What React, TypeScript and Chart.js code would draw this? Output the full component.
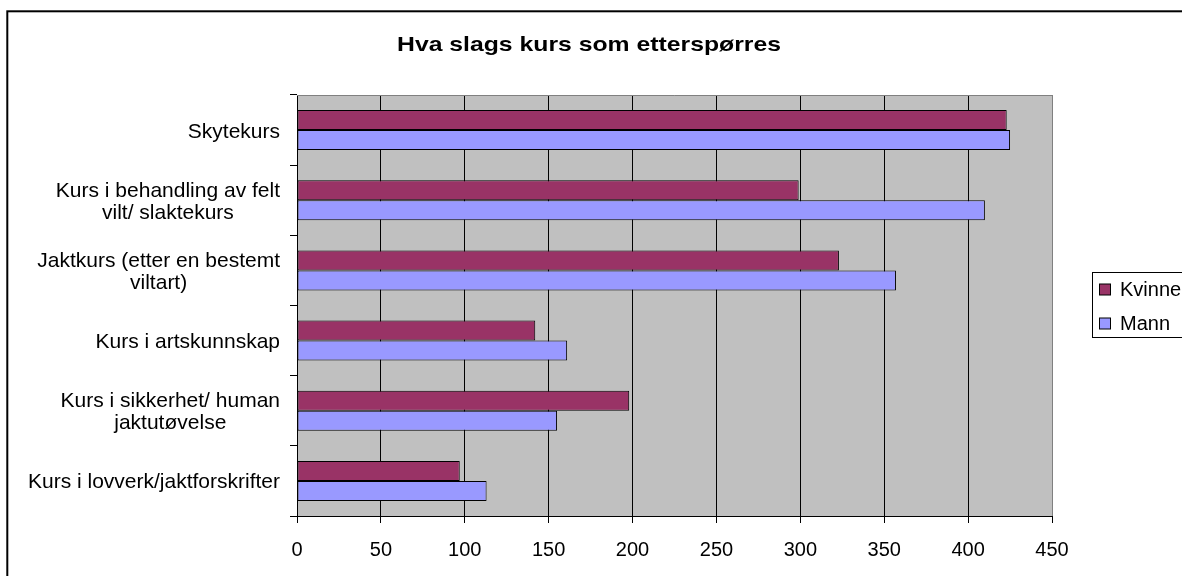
import React, { useEffect, useRef } from 'react';
import { Chart, registerables } from 'chart.js';

Chart.register(...registerables);

const FONT = "'Liberation Sans', Arial, sans-serif";

const categories: string[][] = [
  ['Skytekurs'],
  ['Kurs i behandling av felt', 'vilt/ slaktekurs'],
  ['Jaktkurs (etter en bestemt', 'viltart)'],
  ['Kurs i artskunnskap'],
  ['Kurs i sikkerhet/ human', 'jaktutøvelse'],
  ['Kurs i lovverk/jaktforskrifter'],
];
const kvinne = [423, 299, 323, 142, 198, 97];
const mann = [425, 410, 357, 161, 155, 113];
const seriesNames = ['Kvinne', 'Mann'];
const seriesColors = ['#993366', '#9999FF'];
const xMin = 0;
const xMax = 450;
const xStep = 50;
const title = 'Hva slags kurs som etterspørres';

const excelPlugin = {
  id: 'excelLook',
  beforeDraw(chart: any) {
    const { ctx, chartArea: a } = chart;
    ctx.save();
    ctx.fillStyle = '#ffffff';
    ctx.fillRect(0, 0, chart.width, chart.height);
    ctx.fillStyle = '#C0C0C0';
    ctx.fillRect(a.left, a.top, a.right - a.left, a.bottom - a.top);
    ctx.restore();
  },
  afterDraw(chart: any) {
    const { ctx, chartArea: a } = chart;
    const yScale = chart.scales.y;
    ctx.save();
    // plot area top/right border
    ctx.strokeStyle = '#808080';
    ctx.lineWidth = 1;
    ctx.beginPath();
    ctx.moveTo(a.left, Math.round(a.top) + 0.5);
    ctx.lineTo(Math.round(a.right) + 0.5, Math.round(a.top) + 0.5);
    ctx.lineTo(Math.round(a.right) + 0.5, a.bottom);
    ctx.stroke();

    // title (Excel-like wide rendering)
    ctx.fillStyle = '#000';
    ctx.font = `bold 21px ${FONT}`;
    ctx.textAlign = 'center';
    ctx.textBaseline = 'alphabetic';
    const tw = ctx.measureText(title).width;
    const sx = 384 / tw;
    ctx.save();
    ctx.translate(589, 51);
    ctx.scale(sx, 1);
    ctx.fillText(title, 0, 0);
    ctx.restore();

    // category labels (lines centred, block right-aligned)
    ctx.fillStyle = '#000';
    ctx.font = `21px ${FONT}`;
    ctx.textAlign = 'center';
    ctx.textBaseline = 'alphabetic';
    const labels = chart.data.labels as string[][];
    labels.forEach((lab, i) => {
      const lines = Array.isArray(lab) ? lab : [lab];
      const y = yScale.getPixelForValue(i) + 7.5;
      const maxW = Math.max(...lines.map((l) => ctx.measureText(l).width));
      const cx = a.left - 17 - maxW / 2;
      const lh = 22.3;
      lines.forEach((l, j) => {
        ctx.fillText(l, cx, y + (j - (lines.length - 1) / 2) * lh);
      });
    });

    // legend
    ctx.strokeStyle = '#000';
    ctx.lineWidth = 1;
    ctx.strokeRect(1092.5, 272.5, 200, 65);
    ctx.font = `20px ${FONT}`;
    ctx.textAlign = 'left';
    ctx.textBaseline = 'alphabetic';
    const rows = [289.5, 323.5];
    chart.data.datasets.forEach((ds: any, i: number) => {
      const cy = rows[i];
      ctx.fillStyle = ds.backgroundColor;
      ctx.fillRect(1099.5, cy - 5.5, 11, 11);
      ctx.strokeRect(1099.5, cy - 5.5, 11, 11);
      ctx.fillStyle = '#000';
      ctx.fillText(ds.label, 1120, cy + 6.5);
    });

    // outer frame
    ctx.lineWidth = 2;
    ctx.strokeStyle = '#000';
    ctx.strokeRect(7.3, 11.3, 1400, 800);
    ctx.restore();
  },
};

export default function App() {
  const ref = useRef<HTMLCanvasElement>(null);
  useEffect(() => {
    const chart = new Chart(ref.current as HTMLCanvasElement, {
      type: 'bar',
      data: {
        labels: categories as any,
        datasets: [
          {
            label: seriesNames[0],
            data: kvinne,
            backgroundColor: seriesColors[0],
            borderColor: '#000',
            borderWidth: 1,
            borderSkipped: false,
            categoryPercentage: 0.57,
            barPercentage: 1,
          },
          {
            label: seriesNames[1],
            data: mann,
            backgroundColor: seriesColors[1],
            borderColor: '#000',
            borderWidth: 1,
            borderSkipped: false,
            categoryPercentage: 0.57,
            barPercentage: 1,
          },
        ],
      },
      options: {
        indexAxis: 'y',
        responsive: false,
        animation: false,
        layout: { padding: { left: 0, right: 130, top: 95, bottom: 0 } },
        scales: {
          x: {
            type: 'linear',
            position: 'bottom',
            min: xMin,
            max: xMax,
            ticks: {
              stepSize: xStep,
              color: '#000',
              font: { size: 20, family: FONT },
              padding: 15,
            },
            grid: {
              color: (c: any) => (c.tick && c.tick.value === xMax ? '#808080' : '#000'),
              lineWidth: 1,
              drawTicks: true,
              tickLength: 7,
              tickColor: '#000',
            },
            border: { display: true, color: '#000', width: 1 },
            afterFit: (s: any) => {
              s.height = 60;
            },
          },
          y: {
            type: 'category',
            position: 'left',
            ticks: { display: false },
            grid: {
              drawOnChartArea: false,
              drawTicks: true,
              tickLength: 7,
              color: '#000',
              offset: true,
            },
            border: { display: true, color: '#000', width: 1 },
            afterFit: (s: any) => {
              s.width = 297;
            },
          },
        },
        plugins: {
          legend: { display: false },
          tooltip: { enabled: false },
          title: { display: false, text: title },
        },
      },
      plugins: [excelPlugin],
    });
    return () => chart.destroy();
  }, []);
  return (
    <div
      style={{
        position: 'absolute',
        left: 0,
        top: 0,
        width: 1182,
        height: 576,
        overflow: 'hidden',
        background: '#fff',
      }}
    >
      <canvas ref={ref} width={1182} height={576} style={{ display: 'block' }} />
    </div>
  );
}
